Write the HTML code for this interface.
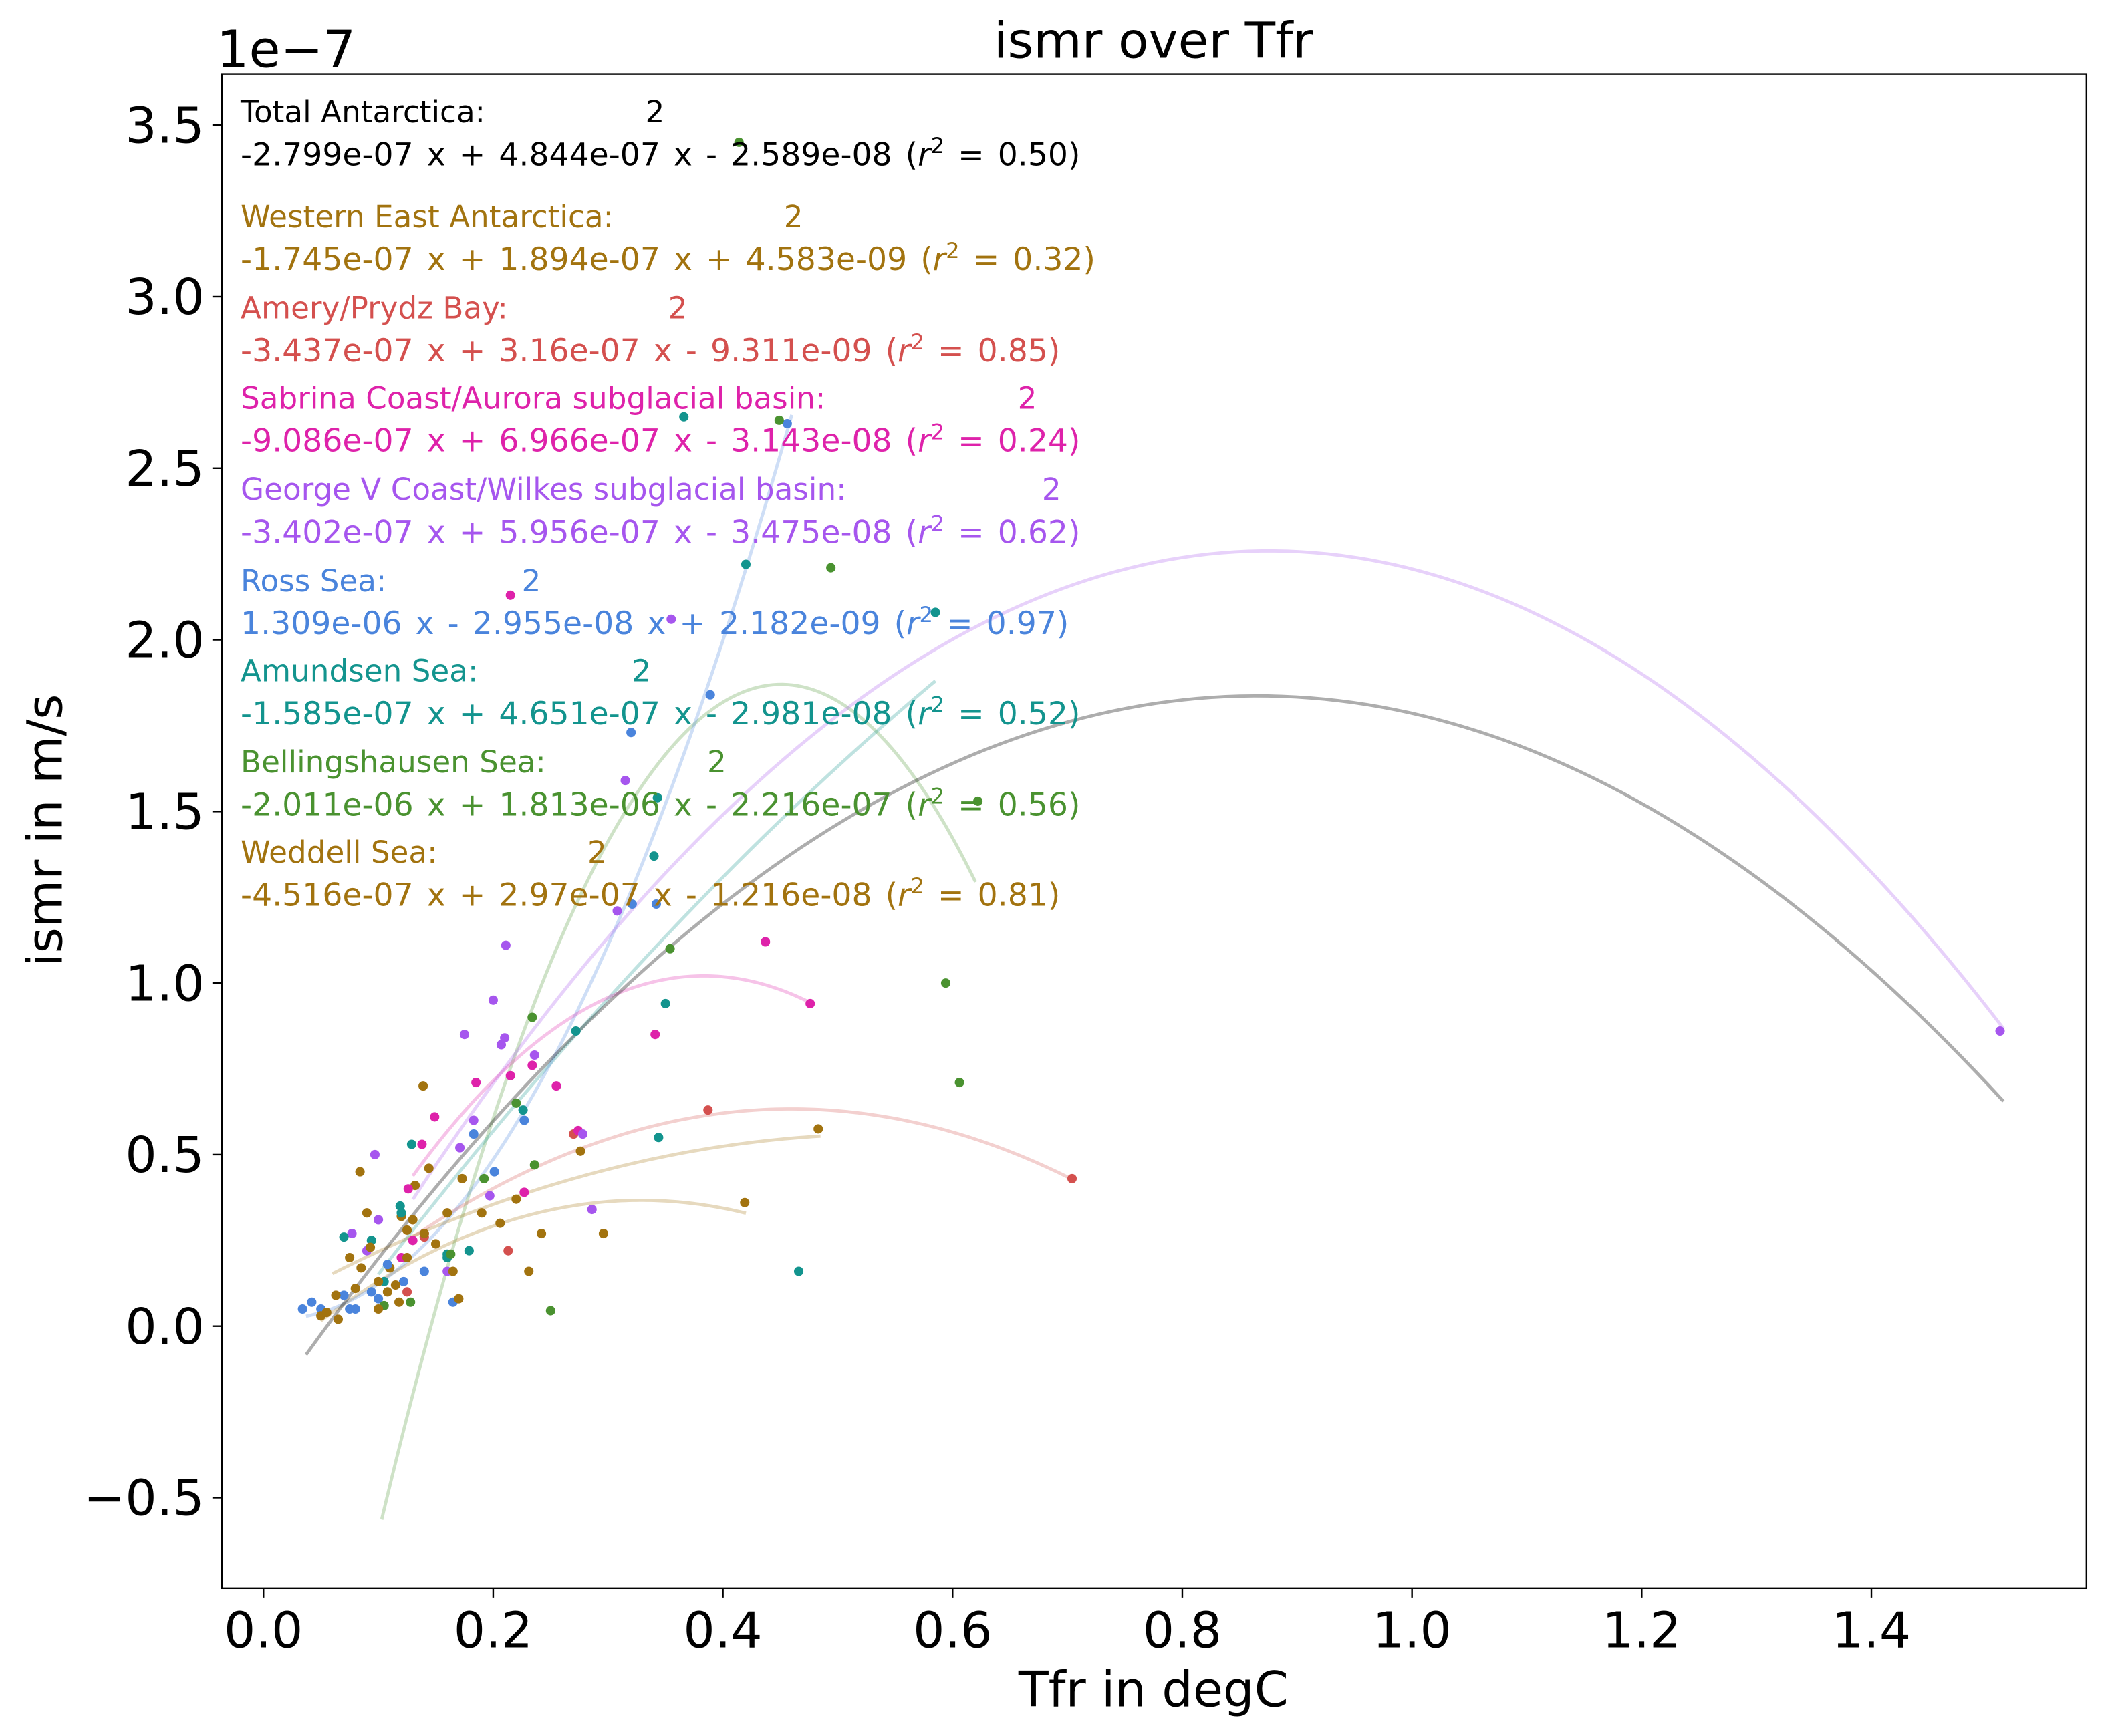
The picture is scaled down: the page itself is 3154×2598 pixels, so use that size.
<!DOCTYPE html>
<html><head><meta charset="utf-8"><style>
html,body{margin:0;padding:0;background:#fff;}
svg{display:block;font-family:"DejaVu Sans","Liberation Sans",sans-serif;}
</style></head><body>
<svg id="chart" width="3154" height="2598" viewBox="0 0 1568 1292" preserveAspectRatio="none" xmlns="http://www.w3.org/2000/svg">
<rect width="1568" height="1292" fill="#fff"/>
<g id="curves"></g>
<g id="points"></g>
<g id="legend"></g>
<rect x="165" y="55" width="1387" height="1127" fill="none" stroke="#000" stroke-width="1.2"/>
<g id="axes"></g>
<text x="858" y="43" font-size="37" text-anchor="middle">ismr over Tfr</text>
<text x="161" y="50" font-size="38">1e−7</text>
<text x="858" y="1270" font-size="36.5" text-anchor="middle">Tfr in degC</text>
<text transform="translate(46,618) rotate(-90)" font-size="36.5" text-anchor="middle">ismr in m/s</text>
</svg>
<script>
const xTicks=[0.0,0.2,0.4,0.6,0.8,1.0,1.2,1.4];
const yTicks=[-0.5,0.0,0.5,1.0,1.5,2.0,2.5,3.0,3.5];
const regionNames=["Total Antarctica","Western East Antarctica","Amery/Prydz Bay","Sabrina Coast/Aurora subglacial basin","George V Coast/Wilkes subglacial basin","Ross Sea","Amundsen Sea","Bellingshausen Sea","Weddell Sea"];
const regionColors=["#000000","#a2730f","#d4504e","#de22aa","#a656ee","#4a84dc","#13948e","#4a9230","#a2730f"];
const coefA=[-2.799,-1.745,-3.437,-9.086,-3.402,13.09,-1.585,-20.11,-4.516];
const coefB=[4.844,1.894,3.16,6.966,5.956,-0.2955,4.651,18.13,2.97];
const coefC=[-0.2589,0.04583,-0.09311,-0.3143,-0.3475,0.02182,-0.2981,-2.216,-0.1216];
const formulaText=["-2.799e-07 x + 4.844e-07 x - 2.589e-08","-1.745e-07 x + 1.894e-07 x + 4.583e-09","-3.437e-07 x + 3.16e-07 x - 9.311e-09","-9.086e-07 x + 6.966e-07 x - 3.143e-08","-3.402e-07 x + 5.956e-07 x - 3.475e-08","1.309e-06 x - 2.955e-08 x + 2.182e-09","-1.585e-07 x + 4.651e-07 x - 2.981e-08","-2.011e-06 x + 1.813e-06 x - 2.216e-07","-4.516e-07 x + 2.97e-07 x - 1.216e-08"];
const r2Text=["0.50","0.32","0.85","0.24","0.62","0.97","0.52","0.56","0.81"];
const xMin=[0.037,0.06,0.13,0.13,0.13,0.037,0.1,0.103,0.05];
const xMax=[1.515,0.485,0.705,0.48,1.515,0.46,0.585,0.62,0.42];
const ptsX=[
[],
[0.483,0.419,0.276,0.296,0.242,0.231,0.206,0.173,0.139,0.144,0.132,0.084,0.075,0.11,0.125,0.19,0.16,0.22,0.09,0.12],
[0.704,0.387,0.213,0.27,0.14,0.125],
[0.215,0.476,0.437,0.341,0.255,0.234,0.215,0.185,0.274,0.227,0.149,0.138,0.126,0.14,0.12,0.13],
[1.512,0.355,0.315,0.308,0.211,0.2,0.207,0.175,0.236,0.183,0.197,0.286,0.097,0.1,0.077,0.171,0.278,0.21,0.09,0.16],
[0.456,0.389,0.32,0.342,0.321,0.227,0.201,0.183,0.034,0.042,0.05,0.075,0.08,0.108,0.094,0.122,0.1,0.14,0.165,0.07],
[0.366,0.42,0.585,0.343,0.35,0.344,0.466,0.272,0.226,0.179,0.129,0.119,0.16,0.07,0.34,0.12,0.16,0.094,0.105],
[0.414,0.449,0.494,0.622,0.594,0.606,0.354,0.234,0.25,0.22,0.236,0.192,0.128,0.163,0.105],
[0.05,0.055,0.065,0.1,0.108,0.115,0.14,0.125,0.15,0.165,0.17,0.1,0.085,0.093,0.063,0.13,0.118,0.08]
];
const ptsY=[
[],
[0.575,0.36,0.51,0.27,0.27,0.16,0.3,0.43,0.7,0.46,0.41,0.45,0.2,0.17,0.28,0.33,0.33,0.37,0.33,0.32],
[0.43,0.63,0.22,0.56,0.26,0.1],
[2.13,0.94,1.12,0.85,0.7,0.76,0.73,0.71,0.57,0.39,0.61,0.53,0.4,0.27,0.2,0.25],
[0.86,2.06,1.59,1.21,1.11,0.95,0.82,0.85,0.79,0.6,0.38,0.34,0.5,0.31,0.27,0.52,0.56,0.84,0.22,0.16],
[2.63,1.84,1.73,1.23,1.23,0.6,0.45,0.56,0.05,0.07,0.05,0.05,0.05,0.18,0.1,0.13,0.08,0.16,0.07,0.09],
[2.65,2.22,2.08,1.54,0.94,0.55,0.16,0.86,0.63,0.22,0.53,0.35,0.2,0.26,1.37,0.33,0.21,0.25,0.13],
[3.45,2.64,2.21,1.53,1.0,0.71,1.1,0.9,0.045,0.65,0.47,0.43,0.07,0.21,0.06],
[0.03,0.04,0.02,0.05,0.1,0.12,0.27,0.2,0.24,0.16,0.08,0.13,0.17,0.23,0.09,0.31,0.07,0.11]
];
const NS='http://www.w3.org/2000/svg';
function X(v){return 196+v*854.3;}
function Y(v){return 987-v*255.4;}
function mk(tag,attrs,parent){const e=document.createElementNS(NS,tag);for(const k in attrs)e.setAttribute(k,attrs[k]);parent.appendChild(e);return e;}
const curves=document.getElementById('curves');
for(let i=8;i>=0;i--){
  let d='';
  for(let s=0;s<=120;s++){const x=xMin[i]+(xMax[i]-xMin[i])*s/120;const y=coefA[i]*x*x+coefB[i]*x+coefC[i];d+=(s?'L':'M')+X(x).toFixed(2)+','+Y(y).toFixed(2);}
  const p=mk('path',{d:d,fill:'none',stroke:regionColors[i],'stroke-width':2.4,'stroke-opacity':i===0?0.32:0.27},curves);
  
  
}
const pts=document.getElementById('points');
for(let i=1;i<9;i++){
  for(let j=0;j<ptsX[i].length;j++){
    const c=mk('circle',{cx:X(ptsX[i][j]),cy:Y(ptsY[i][j]),r:3.5,fill:regionColors[i]},pts);
    
    
  }
}
const axes=document.getElementById('axes');
xTicks.forEach(v=>{
  mk('line',{x1:X(v),x2:X(v),y1:1182,y2:1189,stroke:'#000','stroke-width':1.2},axes);
  const t=mk('text',{x:X(v),y:1226,'font-size':37,'text-anchor':'middle'},axes);t.textContent=v.toFixed(1);
  
  
});
yTicks.forEach(v=>{
  mk('line',{x1:158,x2:165,y1:Y(v),y2:Y(v),stroke:'#000','stroke-width':1.2},axes);
  const t=mk('text',{x:152,y:Y(v)+13,'font-size':37,'text-anchor':'end'},axes);t.textContent=(v<0?'\u2212':'')+Math.abs(v).toFixed(1);
  
  
});
const legend=document.getElementById('legend');
const headY=[91,169,237,304,372,440,507,575,642];
const supX=[480,583,497,757,775,388,470,526,437];
for(let i=0;i<9;i++){
  const h=mk('text',{x:179,y:headY[i],'font-size':22.5,fill:regionColors[i]},legend);
  h.textContent=regionNames[i]+':';
  
  
  const s=mk('text',{x:supX[i],y:headY[i],'font-size':22.5,fill:regionColors[i]},legend);s.textContent='2';
  const f=mk('text',{x:179,y:headY[i]+32,'font-size':23.5,'word-spacing':2.5,fill:regionColors[i]},legend);
  
  
  f.appendChild(document.createTextNode(formulaText[i]+' ('));
  const r=mk('tspan',{'font-style':'italic'},f);r.textContent='r';
  const sp=mk('tspan',{dy:-9,'font-size':16},f);sp.textContent='2';
  const rest=mk('tspan',{dy:9},f);rest.textContent=' = '+r2Text[i]+')';
}
</script>
</body></html>
